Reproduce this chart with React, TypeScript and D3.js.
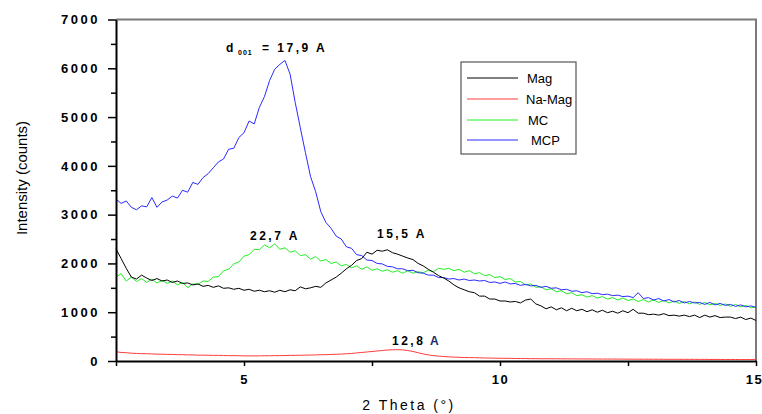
import React, { useEffect, useRef } from "react";
import * as d3 from "d3";

// scan grid: 2.5° to 15° at 0.1° per step
const thetaStart = 2.5;
const thetaStep = 0.1;

const magCounts = [
  2300, 2100, 1900, 1720, 1680, 1760, 1700, 1650, 1690, 1640,
  1660, 1610, 1640, 1590, 1600, 1560, 1580, 1530, 1550, 1510,
  1540, 1490, 1500, 1470, 1490, 1450, 1470, 1430, 1450, 1420,
  1440, 1410, 1450, 1420, 1460, 1440, 1520, 1480, 1500, 1530,
  1510, 1600, 1660, 1720, 1800, 1890, 1960, 2060, 2100, 2230,
  2190, 2270, 2250, 2280, 2220, 2190, 2150, 2110, 2080, 2000,
  1950, 1880, 1820, 1750, 1700, 1640, 1560, 1500, 1460, 1420,
  1400, 1330, 1330, 1270, 1270, 1230, 1230, 1210, 1220, 1190,
  1250, 1270, 1170, 1130, 1070, 1110, 1050, 1090, 1030, 1080,
  1030, 1060, 1010, 1050, 1000, 1040, 990, 1020, 980, 1030,
  990, 1060, 980, 980, 950, 960, 940, 970, 930, 940,
  920, 940, 910, 940, 890, 940, 900, 930, 890, 900,
  900, 870, 900, 850, 880, 830,
];

const naMagCounts = [
  190, 175, 170, 160, 155, 150, 150, 145, 140, 140,
  135, 135, 130, 130, 125, 125, 120, 120, 118, 115,
  115, 112, 110, 110, 108, 105, 105, 105, 105, 108,
  108, 110, 110, 112, 115, 115, 118, 120, 122, 125,
  128, 130, 135, 138, 142, 148, 155, 165, 175, 185,
  195, 205, 215, 225, 230, 232, 228, 215, 195, 170,
  145, 125, 110, 100, 92, 85, 80, 76, 72, 70,
  68, 65, 62, 60, 58, 56, 55, 54, 52, 50,
  50, 48, 48, 46, 46, 45, 45, 44, 44, 43,
  43, 42, 42, 41, 41, 40, 40, 40, 39, 39,
  38, 38, 37, 37, 36, 36, 36, 35, 35, 35,
  34, 34, 34, 33, 33, 33, 32, 32, 32, 31,
  31, 31, 30, 30, 30, 30,
];

const mcCounts = [
  1720, 1790, 1640, 1720, 1630, 1690, 1610, 1680, 1600, 1650,
  1590, 1640, 1560, 1610, 1500, 1580, 1570, 1640, 1630, 1720,
  1730, 1850, 1880, 1990, 2030, 2150, 2180, 2290, 2280, 2380,
  2320, 2400, 2290, 2320, 2230, 2260, 2160, 2180, 2090, 2140,
  2050, 2080, 2000, 2030, 1950, 1980, 1910, 1950, 1880, 1930,
  1860, 1890, 1840, 1870, 1820, 1850, 1800, 1850, 1800, 1830,
  1810, 1860, 1830, 1900, 1880, 1900, 1850, 1880, 1820, 1850,
  1790, 1810, 1750, 1770, 1710, 1730, 1670, 1690, 1620, 1630,
  1560, 1580, 1510, 1520, 1460, 1480, 1420, 1440, 1380, 1400,
  1340, 1360, 1310, 1340, 1290, 1320, 1270, 1300, 1250, 1290,
  1240, 1270, 1220, 1260, 1210, 1250, 1200, 1240, 1190, 1230,
  1180, 1220, 1170, 1210, 1160, 1200, 1150, 1180, 1140, 1170,
  1120, 1160, 1110, 1140, 1090, 1110,
];

const mcpCounts = [
  3320, 3230, 3280, 3150, 3100, 3180, 3160, 3350, 3150, 3260,
  3300, 3380, 3340, 3500, 3460, 3660, 3620, 3760, 3840, 3960,
  4080, 4140, 4340, 4360, 4580, 4680, 4920, 4860, 5200, 5420,
  5750, 5980, 6080, 6160, 5880, 5300, 4780, 4270, 3780, 3470,
  3060, 2840, 2720, 2560, 2500, 2340, 2310, 2180, 2160, 2070,
  2060, 2000, 1990, 1940, 1930, 1890, 1890, 1850, 1860, 1810,
  1800, 1760, 1760, 1710, 1710, 1680, 1690, 1660, 1680, 1650,
  1660, 1640, 1650, 1610, 1620, 1590, 1620, 1580, 1590, 1550,
  1570, 1540, 1550, 1510, 1530, 1490, 1500, 1460, 1470, 1430,
  1440, 1400, 1420, 1380, 1390, 1360, 1370, 1340, 1350, 1320,
  1330, 1300, 1400, 1280, 1300, 1250, 1280, 1230, 1260, 1210,
  1240, 1190, 1220, 1190, 1200, 1160, 1200, 1150, 1180, 1140,
  1160, 1120, 1150, 1110, 1130, 1100,
];

const seriesNames = ["Mag", "Na-Mag", "MC", "MCP"];
const seriesColors = ["#000000", "#ff3c3c", "#22ee22", "#2a2aff"];
const seriesValues = [magCounts, naMagCounts, mcCounts, mcpCounts];

const xTicks = [2.5, 5, 7.5, 10, 12.5, 15];
const xLabelled = [5, 10, 15];
const yTicks = d3.range(0, 7001, 500);

const App = () => {
  const svgRef = useRef(null);
  const width = 762;
  const height = 414;
  const plot = { left: 116, right: 756, top: 19.5, bottom: 361 };

  useEffect(() => {
    const svg = d3.select(svgRef.current);
    svg.selectAll("*").remove();

    const x = d3
      .scaleLinear()
      .domain([2.5, 15])
      .range([plot.left, plot.right]);
    const y = d3
      .scaleLinear()
      .domain([0, 7000])
      .range([plot.bottom, plot.top]);

    // gray frame on top and right
    svg
      .append("path")
      .attr(
        "d",
        `M${plot.left},${plot.top}H${plot.right}V${plot.bottom}`
      )
      .attr("fill", "none")
      .attr("stroke", "#7a7a7a")
      .attr("stroke-width", 2);

    // curves
    const line = d3
      .line()
      .x((d, i) => x(thetaStart + i * thetaStep))
      .y((d) => y(d));

    const drawOrder = [2, 3, 0, 1];
    drawOrder.forEach((k) => {
      svg
        .append("path")
        .datum(seriesValues[k])
        .attr("d", line)
        .attr("fill", "none")
        .attr("stroke", seriesColors[k])
        .attr("stroke-width", 1);
    });

    // x axis
    const xAxis = d3
      .axisBottom(x)
      .tickValues(xTicks)
      .tickSize(5)
      .tickSizeOuter(0)
      .tickPadding(9)
      .tickFormat((d) => (xLabelled.includes(d) ? String(d) : ""));
    const xAxisG = svg
      .append("g")
      .attr("transform", `translate(0,${plot.bottom})`)
      .call(xAxis);
    xAxisG.select(".domain").attr("stroke", "#000").attr("stroke-width", 2);
    xAxisG.selectAll(".tick line").attr("stroke", "#000").attr("stroke-width", 1.5);
    xAxisG
      .selectAll(".tick text")
      .attr("fill", "#000")
      .attr("dx", (d) => (d === 15 ? -2 : 0))
      .style("font-family", "Liberation Sans, Arial, sans-serif")
      .style("font-size", "13px")
      .style("font-weight", "bold")
      .style("letter-spacing", "1.5px");

    // y axis
    const yAxis = d3
      .axisLeft(y)
      .tickValues(yTicks)
      .tickSize(8)
      .tickSizeOuter(0)
      .tickPadding(8)
      .tickFormat((d) => (d % 1000 === 0 ? String(d) : ""));
    const yAxisG = svg
      .append("g")
      .attr("transform", `translate(${plot.left},0)`)
      .call(yAxis);
    yAxisG.select(".domain").attr("stroke", "#000").attr("stroke-width", 2);
    yAxisG
      .selectAll(".tick line")
      .attr("stroke", "#000")
      .attr("stroke-width", 1.5)
      .attr("x2", (d) => (d % 1000 === 0 ? -8 : -5));
    yAxisG
      .selectAll(".tick text")
      .attr("fill", "#000")
      .style("font-family", "Liberation Sans, Arial, sans-serif")
      .style("font-size", "13px")
      .style("font-weight", "bold")
      .style("letter-spacing", "2.5px");

    // axis titles
    svg
      .append("text")
      .attr("transform", `translate(27,178) rotate(-90)`)
      .attr("text-anchor", "middle")
      .style("font-family", "Liberation Sans, Arial, sans-serif")
      .style("font-size", "15px")
      .text("Intensity (counts)");

    svg
      .append("text")
      .attr("x", 409)
      .attr("y", 410)
      .attr("text-anchor", "middle")
      .style("font-family", "Liberation Sans, Arial, sans-serif")
      .style("font-size", "14px")
      .style("letter-spacing", "2.5px")
      .text("2 Theta (°)");

    // peak labels
    const note = (tx, ty, label, fill = "#000") =>
      svg
        .append("text")
        .attr("x", tx)
        .attr("y", ty)
        .attr("fill", fill)
        .style("font-family", "Liberation Sans, Arial, sans-serif")
        .style("font-size", "12px")
        .style("font-weight", "bold")
        .style("letter-spacing", "2.5px")
        .text(label);

    note(226, 52, "d");
    svg
      .append("text")
      .attr("x", 238)
      .attr("y", 55)
      .style("font-family", "Liberation Sans, Arial, sans-serif")
      .style("font-size", "7px")
      .style("font-weight", "bold")
      .style("letter-spacing", "1px")
      .text("001");
    note(262, 52, "= 17,9 A");
    note(250, 240, "22,7 A");
    note(377, 238, "15,5 A");
    note(392, 345, "12,8");
    note(430, 345, "A", "#1a2a6a");

    // legend
    const lg = svg.append("g");
    lg.append("rect")
      .attr("x", 461)
      .attr("y", 62)
      .attr("width", 115)
      .attr("height", 92)
      .attr("fill", "#fff")
      .attr("stroke", "#555")
      .attr("stroke-width", 1.2);
    const rowY = [78, 99, 120, 140];
    const textX = [527, 526, 528, 531];
    seriesNames.forEach((name, i) => {
      lg.append("line")
        .attr("x1", 467)
        .attr("x2", 518)
        .attr("y1", rowY[i])
        .attr("y2", rowY[i])
        .attr("stroke", seriesColors[i])
        .attr("stroke-width", 1);
      lg.append("text")
        .attr("x", textX[i])
        .attr("y", rowY[i] + 5)
        .style("font-family", "Liberation Sans, Arial, sans-serif")
        .style("font-size", "13px")
        .text(name);
    });
  }, []);

  return (
    <svg
      ref={svgRef}
      width={width}
      height={height}
      style={{ position: "absolute", left: 0, top: 0, background: "#fff" }}
    ></svg>
  );
};

export default App;
